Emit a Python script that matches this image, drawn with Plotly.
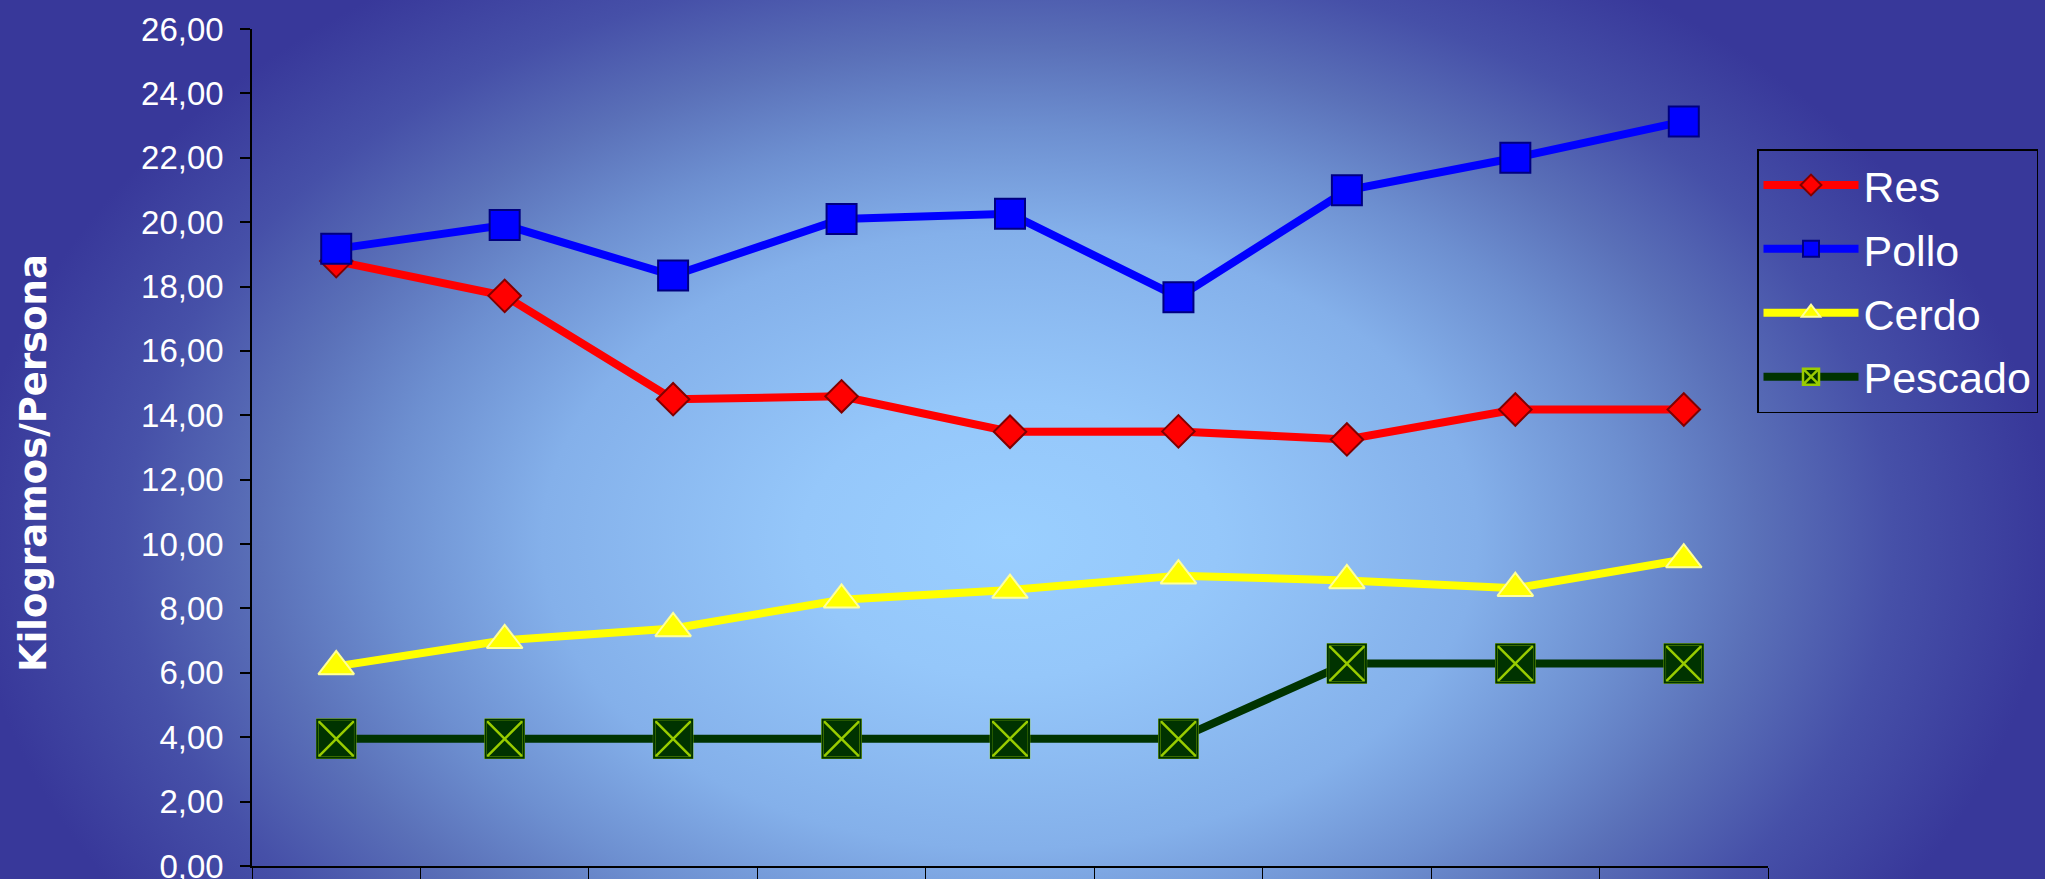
import base64
import plotly.graph_objects as go

categories = ["1", "2", "3", "4", "5", "6", "7", "8", "9"]
res = [18.79, 17.71, 14.50, 14.59, 13.49, 13.50, 13.25, 14.18, 14.18]
pollo = [19.17, 19.91, 18.34, 20.10, 20.26, 17.67, 20.99, 22.00, 23.13]
cerdo = [6.20, 7.01, 7.38, 8.27, 8.57, 9.02, 8.87, 8.63, 9.52]
pescado = [3.95, 3.95, 3.95, 3.95, 3.95, 3.95, 6.29, 6.29, 6.29]
y_ticks = [0, 2, 4, 6, 8, 10, 12, 14, 16, 18, 20, 22, 24, 26]

W, H = 2045, 879
L, R, T, B = 252, 277, 29, 13
PW, PH = W - L - R, H - T - B

svg = f'''<svg xmlns="http://www.w3.org/2000/svg" width="{W}" height="{H}" viewBox="0 0 {W} {H}">
<defs><radialGradient id="g" gradientUnits="userSpaceOnUse" cx="1010" cy="540" r="1040"
 gradientTransform="translate(1010 540) scale(1 0.66) translate(-1010 -540)">
<stop offset="0" stop-color="#9acfff"/>
<stop offset="0.2" stop-color="#95c7fa"/>
<stop offset="0.45" stop-color="#84b0ea"/>
<stop offset="0.6" stop-color="#6d8fd0"/>
<stop offset="0.72" stop-color="#5a70b8"/>
<stop offset="0.85" stop-color="#4650a8"/>
<stop offset="1" stop-color="#38389a"/>
</radialGradient></defs>
<rect x="0" y="0" width="{W}" height="{H}" fill="url(#g)"/></svg>'''
bg_uri = "data:image/svg+xml;base64," + base64.b64encode(svg.encode()).decode()

FONT = "Liberation Sans, Arial, sans-serif"

fig = go.Figure()
fig.add_trace(go.Scatter(
    x=categories, y=res, name="Res", mode="lines+markers", legendgroup="res",
    line=dict(color="#ff0000", width=8),
    marker=dict(symbol="diamond", size=25, color="#ff0000",
                line=dict(color="#800000", width=2))))
fig.add_trace(go.Scatter(
    x=categories, y=pollo, name="Pollo", mode="lines+markers", legendgroup="pollo",
    line=dict(color="#0000ff", width=8),
    marker=dict(symbol="square", size=30, color="#0000ff",
                line=dict(color="#000080", width=2))))
fig.add_trace(go.Scatter(
    x=categories, y=cerdo, name="Cerdo", mode="lines+markers", legendgroup="cerdo",
    line=dict(color="#ffff00", width=8),
    marker=dict(symbol="triangle-up", size=31, color="#ffff00",
                line=dict(color="#ffff99", width=2))))
fig.add_trace(go.Scatter(
    x=categories, y=pescado, name="Pescado", mode="lines+markers",
    line=dict(color="#003300", width=8), legendgroup="pes",
    marker=dict(symbol="square-x", size=38, color="#003300",
                line=dict(color="#99cc00", width=2.5))))
fig.add_trace(go.Scatter(
    x=categories, y=pescado, name="Pescado", mode="markers",
    legendgroup="pes", showlegend=False, hoverinfo="skip",
    marker=dict(symbol="square-open", size=38, color="#003300",
                line=dict(color="#003300", width=2))))

fig.update_layout(
    width=W, height=H,
    margin=dict(l=L, r=R, t=T, b=B, pad=0, autoexpand=False),
    paper_bgcolor="#3a3c9a", plot_bgcolor="rgba(0,0,0,0)",
    separators=",.",
    font=dict(family=FONT, color="white", size=33),
    showlegend=True,
    legend=dict(
        x=(1757 - L) / PW, y=1 - (149 - T) / PH, xanchor="left", yanchor="top",
        bgcolor="rgba(0,0,0,0)", bordercolor="#000000", borderwidth=1.5,
        font=dict(size=43, color="white", family=FONT), itemwidth=95,
        traceorder="grouped", tracegroupgap=5),
    images=[dict(source=bg_uri, xref="paper", yref="paper",
                 x=-L / PW, y=1 + T / PH, sizex=W / PW, sizey=H / PH,
                 xanchor="left", yanchor="top", sizing="stretch", layer="below")],
    xaxis=dict(type="category", tickson="boundaries", ticks="outside", ticklen=16,
               tickcolor="black", tickwidth=1, showticklabels=False, showgrid=False,
               showline=True, linecolor="black", linewidth=2, zeroline=False,
               automargin=False, range=[-0.5, len(categories) - 0.5]),
    yaxis=dict(range=[0, 26], tickvals=y_ticks, tickformat=".2f", ticks="outside",
               ticklen=10, tickcolor="black", tickwidth=1.5, showgrid=False,
               showline=True, linecolor="black", linewidth=1.5, zeroline=False,
               automargin=False, ticklabelstandoff=10, ticklabeloverflow="allow"),
    annotations=[dict(text="<b>Kilogramos/Persona</b>", textangle=-90,
                      xref="paper", yref="paper",
                      x=(33 - L) / PW, y=1 - (463 - T) / PH,
                      xanchor="center", yanchor="middle", showarrow=False,
                      font=dict(size=37, color="white",
                                family="DejaVu Sans, sans-serif"))],
)

fig.write_html("out.html", config={"displayModeBar": False},
               post_script="document.body.style.margin='0';document.body.style.overflow='hidden';")
